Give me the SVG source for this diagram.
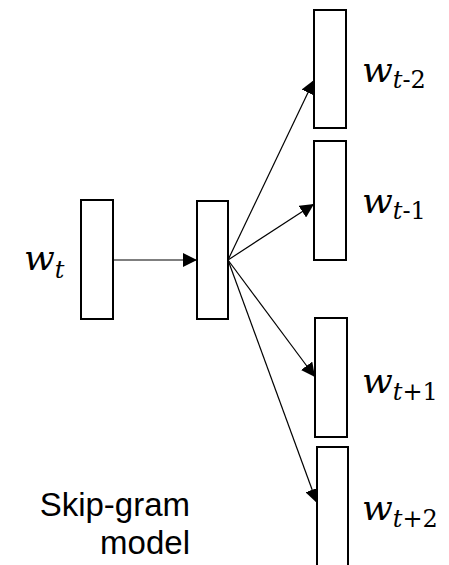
<svg xmlns="http://www.w3.org/2000/svg" width="449" height="565" viewBox="0 0 449 565">
<defs>
<style>
.box{fill:#fff;stroke:#000;stroke-width:2}
.edge{stroke:#000;stroke-width:1.2;fill:none}
.lbl{font-family:"DejaVu Serif",serif;font-style:italic;font-size:36px;fill:#000}
.sub{font-size:24px}
.subn{font-style:normal}
.cap{font-family:"Liberation Sans",sans-serif;font-size:33px;fill:#000;text-anchor:end}
</style>
<marker id="ah" viewBox="0 0 10 10" refX="10" refY="5" markerWidth="14" markerHeight="14" markerUnits="userSpaceOnUse" orient="auto">
<path d="M0,0 L10,5 L0,10 z" fill="#000"/>
</marker>
</defs>
<g id="connectors">
<line class="edge" x1="113" y1="260" x2="197" y2="260" marker-end="url(#ah)"/>
<line class="edge" x1="228" y1="260" x2="314" y2="80" marker-end="url(#ah)"/>
<line class="edge" x1="228" y1="260" x2="314" y2="204" marker-end="url(#ah)"/>
<line class="edge" x1="228" y1="260" x2="315" y2="377" marker-end="url(#ah)"/>
<line class="edge" x1="228" y1="260" x2="317" y2="503" marker-end="url(#ah)"/>
</g>
<g id="input">
<rect class="box" x="81" y="200" width="32" height="119"/>
<text class="lbl" x="24" y="270">w<tspan class="sub" dy="8">t</tspan></text>
</g>
<g id="hidden">
<rect class="box" x="197" y="201" width="31" height="118"/>
</g>
<g id="out-t-2">
<rect class="box" x="314" y="10" width="32" height="118"/>
<text class="lbl" x="362" y="82">w<tspan class="sub" dy="6">t</tspan><tspan class="sub subn">-2</tspan></text>
</g>
<g id="out-t-1">
<rect class="box" x="314" y="141" width="32" height="119"/>
<text class="lbl" x="362" y="213">w<tspan class="sub" dy="6">t</tspan><tspan class="sub subn">-1</tspan></text>
</g>
<g id="out-t+1">
<rect class="box" x="315" y="318" width="32" height="119"/>
<text class="lbl" x="362" y="393">w<tspan class="sub" dy="7">t</tspan><tspan class="sub subn">+1</tspan></text>
</g>
<g id="out-t+2">
<rect class="box" x="317" y="447" width="31" height="120"/>
<text class="lbl" x="362" y="520">w<tspan class="sub" dy="7">t</tspan><tspan class="sub subn">+2</tspan></text>
</g>
<g id="caption">
<text class="cap" x="190" y="516">Skip-gram</text>
<text class="cap" x="190" y="554">model</text>
</g>
</svg>
